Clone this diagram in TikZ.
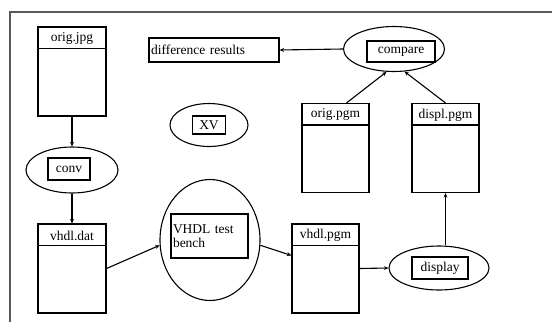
\documentclass[tikz,border=0pt]{standalone}
\usepackage{fontspec}
\setmainfont{Liberation Serif}
\usetikzlibrary{shapes.geometric,arrows.meta,calc}
\begin{document}
\begin{tikzpicture}[x=1pt,y=-1pt,
  line width=1.1pt,
  every node/.style={font=\fontsize{13.5}{15}\selectfont, inner sep=0pt},
  filebox/.style={draw, rectangle, minimum width=68pt, minimum height=89pt},
  oval/.style={draw, ellipse, inner sep=0pt},
  inbox/.style={draw, rectangle, align=center},
  conn/.style={-{Stealth[length=4.5pt,width=3.8pt]}}
]
\useasboundingbox (0,0) rectangle (552,322);
% frame
\draw[line width=1.5pt, gray!70!black] (10,322) -- (10,12) -- (552,12);

% file boxes
\newcommand{\filenode}[4]{%
  \node[filebox, minimum width=#3] (#1) at (#2) {};
  \node at ($(#1.north)+(0,12)$) {#4};
  \draw ($(#1.north west)+(0,22)$) -- ($(#1.north east)+(0,22)$);}
\filenode{ojpg}{72,71.5}{68pt}{orig.jpg}
\filenode{vdat}{72,268.5}{68pt}{vhdl.dat}
\filenode{opgm}{335.5,148}{67pt}{orig.pgm}
\filenode{dpgm}{445.5,148}{67pt}{displ.pgm}
\filenode{vpgm}{325.5,268.5}{67pt}{vhdl.pgm}

% difference results
\node[draw, minimum width=130pt, minimum height=24pt, text width=126pt, align=left] (diff) at (214,50) {difference results};

% ellipses
\node[oval, minimum width=78pt, minimum height=43pt] (xv) at (209,125) {};
\node[inbox, minimum width=33pt, minimum height=18pt] (xvt) at (209,125) {XV};

\node[oval, minimum width=101pt, minimum height=45pt] (cmp) at (394,49) {};
\node[inbox, minimum width=68pt, minimum height=21pt] (cmpt) at (401,51.5) {compare};

\node[oval, minimum width=92pt, minimum height=46pt] (conv) at (72,170) {};
\node[inbox, minimum width=42pt, minimum height=22pt] (convt) at (69,169) {conv};

\node[oval, minimum width=100pt, minimum height=121pt] (bench) at (210,240) {};
\node[inbox, minimum width=77pt, minimum height=44pt, text width=73pt, align=left] (bencht) at (209.5,236) {VHDL test\\[-1pt]bench};

\node[oval, minimum width=100pt, minimum height=44pt] (disp) at (439,268) {};
\node[inbox, minimum width=56pt, minimum height=22pt] (dispt) at (440,268) {display};

% connectors
\draw[conn] (ojpg.south) -- (conv.north);
\draw[conn] (conv.south) -- (vdat.north);
\draw[conn] (vdat.east) -- (bench.186);
\draw[conn] (bench.354) -- ($(vpgm.north west)+(0,32)$);
\draw[conn] (vpgm.east) -- (disp.west);
\draw[conn] (disp.north -| dpgm.south) -- (dpgm.south);
\draw[conn] ($(opgm.north)+(11,0)$) -- (cmp.252);
\draw[conn] (dpgm.north) -- (cmp.295);
\draw[conn] (cmp.west) -- (diff.east);
\end{tikzpicture}
\end{document}
